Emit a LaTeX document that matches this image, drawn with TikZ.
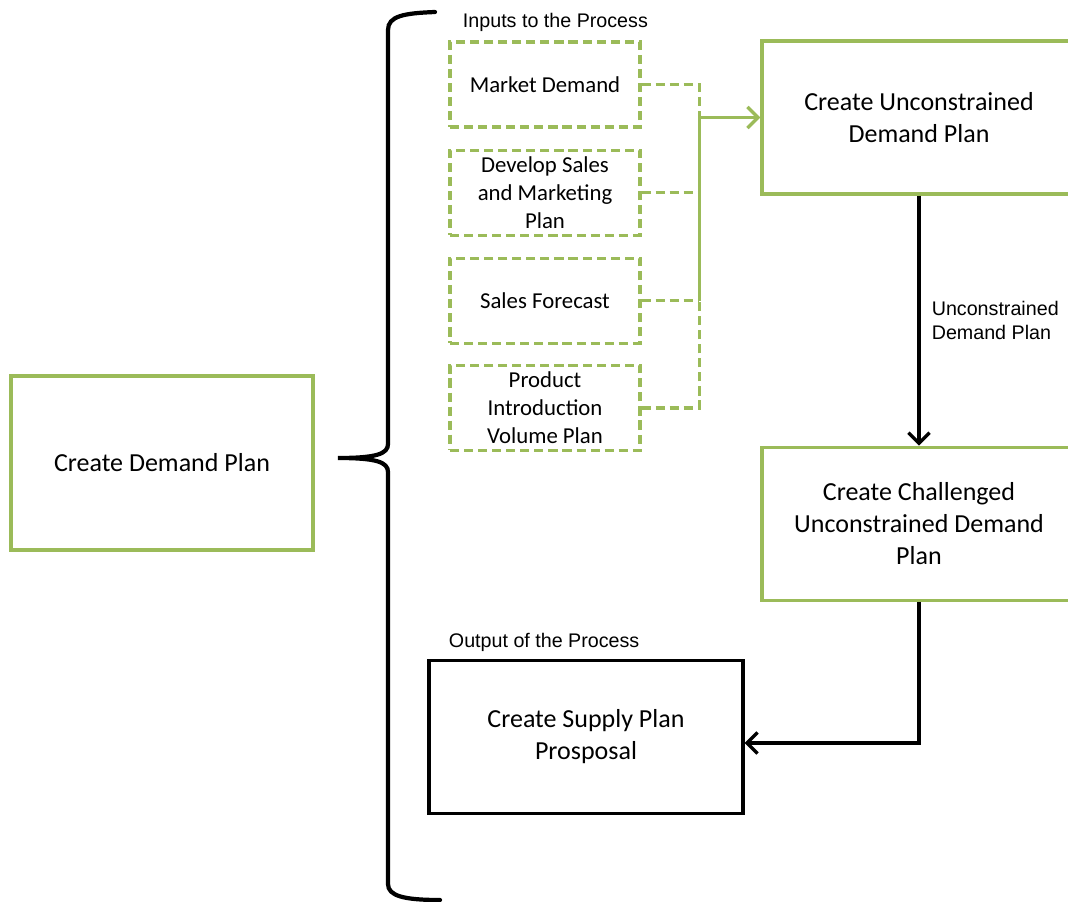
\documentclass[tikz,border=0pt]{standalone}
\usepackage{fontspec}
\usepackage{xcolor}
\usepackage{tikz}
\usetikzlibrary{positioning, arrows.meta}
\setmainfont{Carlito}
\newfontfamily\notefont{Liberation Sans}
\definecolor{leafgreen}{RGB}{155,187,89}
\newcommand{\boxfont}{\fontsize{18.5}{22.75}\selectfont}
\newcommand{\inputfont}{\fontsize{16.2}{19.9}\selectfont}
\newcommand{\notesize}{\notefont\fontsize{14}{17}\selectfont}

\begin{document}
\begin{tikzpicture}[
    >={Straight Barb[length=7.5pt, width=15pt, line width=2.4pt]},
    procbox/.style={draw=leafgreen, line width=2.3pt, minimum width=7.85cm, minimum height=3.825cm, align=center, font=\boxfont},
    inputbox/.style={draw=leafgreen, line width=2.2pt, dash pattern=on 6.5pt off 3.5pt, minimum width=4.75cm, minimum height=2.125cm, align=center, font=\inputfont},
    feed/.style={draw=leafgreen, line width=2.2pt, dash pattern=on 6.5pt off 3.5pt},
    flow/.style={draw=black, line width=3pt}
  ]
  \useasboundingbox (0,0) rectangle (26.7,-22.55);
  \node[procbox, minimum width=7.55cm, minimum height=4.35cm] (Demand) at (4.05,-11.575) {Create Demand Plan};  % Main Process
  % Brace
  \draw[line width=3pt, line cap=round] (10.875,-0.3) .. controls (10.1,-0.33) and (9.7,-0.4) .. (9.7,-0.75) -- (9.7,-11.1)
    .. controls (9.7,-11.35) and (9.4,-11.45) .. (8.45,-11.45) .. controls (9.4,-11.45) and (9.7,-11.55) .. (9.7,-11.8)
    -- (9.7,-22.1) .. controls (9.7,-22.4) and (10.1,-22.5) .. (11.0,-22.5);
  \node[anchor=west, font=\notesize] (Inputs-label) at (11.45,-0.55) {Inputs to the Process};
  \node[inputbox] (Market) at (13.625,-2.1125) {Market Demand};  % Inputs
  \node[inputbox, below=0.5cm of Market] (Develop) {Develop Sales\\and Marketing\\Plan};
  \node[inputbox, below=0.5cm of Develop] (Forecast) {Sales Forecast};
  \node[inputbox, below=0.48cm of Forecast] (Product) {Product\\Introduction\\Volume Plan};
  \node[procbox] (Unconstrained) at (22.975,-2.9375) {Create Unconstrained\\Demand Plan};  % Steps
  \node[procbox, below=6.25cm of Unconstrained] (Challenged) {Create Challenged\\Unconstrained Demand\\Plan};
  \node[procbox, draw=black] (Supply) at (14.65,-18.425) {Create Supply Plan\\Prosposal};  % Output
  \node[anchor=west, font=\notesize] (Output-label) at (11.1,-16.05) {Output of the Process};
  \path (Unconstrained.west) ++(-1.525,0) coordinate (Hub);
  \draw[feed] (Market.east) -| (Hub);  % Connect inputs
  \draw[feed] (Develop.east) -- (Develop.east -| Hub);
  \draw[feed] (Forecast.east) -- (Forecast.east -| Hub);
  \draw[feed] (Product.east) -| (Forecast.east -| Hub);
  \draw[->, draw=leafgreen, line width=2.2pt] (Forecast.east -| Hub) |- (Unconstrained.west);
  \draw[->, flow] (Unconstrained.south) -- (Challenged.north) node[midway, right=0.15cm, align=left, font=\notesize]{Unconstrained\\Demand Plan};
  \draw[->, flow] (Challenged.south) |- ([yshift=-0.15cm]Supply.east);
\end{tikzpicture}
\end{document}
